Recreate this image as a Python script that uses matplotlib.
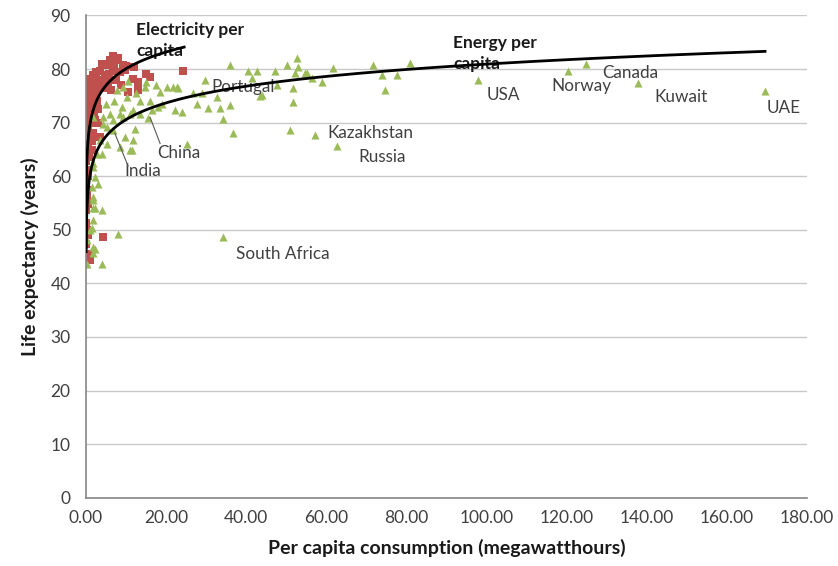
import numpy as np
import matplotlib
matplotlib.use("Agg")
from matplotlib import pyplot as plt

# electricity per capita (MWh) vs life expectancy - red squares
elec_x = [6.7, 7.7, 6.0, 9.2, 5.2, 3.5, 6.7, 8.5, 1.7, 4.7, 1.0, 3.0, 0.5, 2.2, 4.2,
          0.2, 1.7, 0.1, 1.0, 2.7, 13.0, 13.0, 11.7, 10.5, 16.0, 24.2, 8.0, 7.0, 5.8,
          3.8, 2.5, 4.0, 5.5, 7.5, 9.8, 2.0, 0.8, 0.5, 2.2, 0.2, 1.7, 3.5, 0.2, 1.5,
          0.1, 0.2, 0.05, 0.2, 0.1, 0.05, 4.2, 0.1, 1.0, 0.5, 0.8, 0.4, 0.3, 0.6, 0.3,
          0.4, 0.6, 1.2, 1.4, 0.7, 3.0, 10.0, 12.0, 15.0, 8.7, 6.2,
          1.3, 2.4, 0.9, 3.2, 0.4, 1.1, 2.9, 0.6, 0.3, 1.9]
elec_y = [82.5, 81.6, 81.6, 80.7, 80.7, 79.7, 79.7, 79.4, 78.9, 78.9, 78.2, 77.5, 77.0,
          76.6, 76.4, 75.7, 75.0, 74.5, 73.8, 74.1, 76.0, 77.5, 78.2, 75.7, 78.5, 79.7,
          82.0, 80.5, 79.0, 78.0, 79.5, 81.0, 77.5, 78.0, 79.8, 73.0, 72.5, 71.7, 70.4,
          69.1, 68.0, 67.3, 66.1, 64.8, 62.9, 61.1, 58.6, 56.1, 53.6, 51.2, 48.6, 47.4,
          44.3, 65.5, 63.5, 60.0, 57.5, 54.8, 50.0, 45.5, 49.0, 70.0, 66.5, 68.0, 72.5,
          80.5, 80.3, 79.0, 77.0, 76.0,
          76.0, 75.5, 74.8, 76.8, 73.0, 71.0, 70.0, 69.5, 64.0, 72.0]

# energy per capita (MWh) vs life expectancy - green triangles
energy_x = [169.5, 137.9, 124.9, 120.4, 97.9,
            35.9, 40.4, 41.4, 47.2, 50.2, 52.7, 52.9, 52.2, 55.2, 51.7, 51.7, 61.7,
            71.6, 74.6, 80.9, 73.9, 77.6, 57.2, 62.7, 50.9, 36.7, 34.2, 30.5, 33.4,
            35.9, 29.7, 29.0, 47.7, 56.4, 58.9, 54.7, 43.9, 21.7, 23.0, 25.2, 22.2,
            24.0, 34.2, 26.7, 43.4, 42.7, 32.7, 27.7,
            16.5, 16.0, 18.0, 14.7, 13.5, 11.7, 10.2, 8.5, 7.7, 9.2, 6.0, 5.2, 4.2,
            3.5, 2.7, 1.7, 1.5, 1.7, 20.2, 22.7, 18.5, 6.7, 13.5, 15.5, 12.2, 5.2,
            11.0, 11.7, 9.7, 8.5, 8.0, 4.0, 2.2, 0.3, 1.0, 4.0, 1.7, 1.7, 4.2, 9.2,
            11.0, 6.7, 11.5, 4.0, 1.7, 2.2, 1.7, 2.2, 1.7, 1.5, 1.7, 1.7, 0.3, 3.0,
            5.0, 7.0, 9.0, 12.5, 17.5, 19.0, 15.0, 10.5]
energy_y = [75.9, 77.4, 81.0, 79.7, 77.9,
            80.7, 79.7, 78.4, 79.7, 80.7, 82.0, 80.3, 79.2, 79.2, 76.4, 73.8, 80.1,
            80.7, 76.0, 81.2, 78.9, 78.9, 67.6, 65.7, 68.6, 68.0, 70.6, 72.8, 72.8,
            73.2, 77.9, 75.5, 77.0, 78.4, 77.5, 79.2, 75.1, 76.6, 76.4, 66.1, 72.3,
            71.9, 48.6, 75.5, 75.0, 79.7, 74.8, 73.5,
            72.3, 74.1, 72.9, 76.6, 74.1, 72.3, 74.8, 71.7, 76.0, 76.6, 71.7, 69.1,
            71.0, 66.7, 64.2, 61.7, 57.9, 55.5, 76.6, 76.6, 75.7, 70.4, 71.7, 70.8,
            68.8, 66.1, 64.8, 66.7, 67.3, 65.4, 49.3, 43.7, 46.5, 43.7, 49.9, 53.6,
            54.0, 71.0, 69.8, 71.0, 71.7, 68.6, 64.8, 64.2, 62.4, 59.8, 56.1, 54.0,
            51.8, 50.3, 46.7, 45.6, 48.0, 58.5, 73.5, 74.0, 73.0, 75.5, 77.0, 73.5,
            77.5, 77.8]

# logarithmic trend lines: y = a*ln(x) + b, over x range
elec_trend = (4.5, 69.7, 0.006, 24.5)
energy_trend = (4.5, 60.2, 0.042, 169.5)

countries = ["Portugal", "China", "India", "Kazakhstan", "Russia", "South Africa",
             "USA", "Norway", "Canada", "Kuwait", "UAE"]
country_x = [31.2, 17.7, 9.7, 60.2, 68.1, 37.4, 100.1, 116.1, 128.8, 141.8, 170.0]
country_y = [76.7, 64.4, 60.9, 68.0, 63.5, 45.4, 75.1, 76.9, 79.2, 74.7, 72.7]

plt.rcParams['font.family'] = ['Lato', 'DejaVu Sans']

fig = plt.figure(figsize=(8.38, 5.66), dpi=100)
ax = fig.add_axes([0.1026, 0.1207, 0.8605, 0.852])

ax.scatter(elec_x, elec_y, marker='s', s=30, color='#C0504D', linewidths=0, zorder=2)
ax.scatter(energy_x, energy_y, marker='^', s=34, color='#9BBB59', linewidths=0, zorder=2)

for a, b, x0, x1 in [elec_trend, energy_trend]:
    xs = np.geomspace(x0, x1, 300)
    ax.plot(xs, a * np.log(xs) + b, color='black', lw=2.0, zorder=4)

ax.text(12.5, 88.8, "Electricity per\ncapita", fontsize=12.5, fontweight='bold',
        ha='left', va='top', linespacing=1.4, color='#1a1a1a', zorder=3)
ax.text(91.6, 86.4, "Energy per\ncapita", fontsize=12.5, fontweight='bold',
        ha='left', va='top', linespacing=1.4, color='#1a1a1a', zorder=3)

for name, x, y in zip(countries, country_x, country_y):
    ax.text(x, y, name, fontsize=12.3, ha='left', va='center', color='#404040', zorder=3)

# leader lines for China and India
ax.plot([18.5, 16.0], [66.1, 71.0], color='#595959', lw=0.8, zorder=3)
ax.plot([10.5, 7.2], [61.9, 68.0], color='#595959', lw=0.8, zorder=3)

ax.set_xlim(0, 180)
ax.set_ylim(0, 90)
ax.set_xticks(np.arange(0, 181, 20))
ax.set_xticklabels([f"{v:.2f}" for v in np.arange(0, 181, 20)])
ax.set_yticks(np.arange(0, 91, 10))
ax.grid(axis='y', color='#C8C8C8', lw=1.0, zorder=0)
ax.set_axisbelow(True)
for side in ['top', 'right']:
    ax.spines[side].set_visible(False)
for side in ['left', 'bottom']:
    ax.spines[side].set_color('#868686')
    ax.spines[side].set_linewidth(1.2)
ax.tick_params(axis='both', length=0, labelsize=12.5, labelcolor='#404040')
ax.tick_params(axis='x', pad=9)
ax.tick_params(axis='y', pad=11)

ax.set_xlabel("Per capita consumption (megawatthours)", fontsize=14,
              fontweight='bold', color='#1a1a1a', labelpad=9)
ax.set_ylabel("Life expectancy (years)", fontsize=14, fontweight='bold',
              color='#1a1a1a', labelpad=8)

fig.savefig("out.png", dpi=100)
